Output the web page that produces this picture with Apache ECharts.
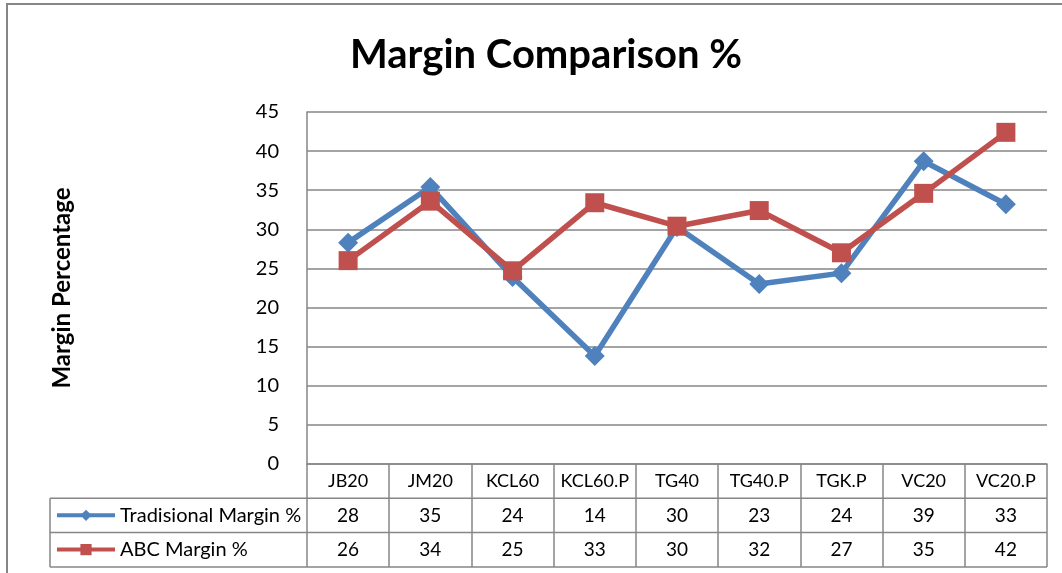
<!DOCTYPE html>
<html>
<head>
<meta charset="utf-8">
<script src="https://cdn.jsdelivr.net/npm/echarts@6/dist/echarts.min.js"></script>
<style>
  html, body { margin: 0; padding: 0; background: #fff; }
  #main { width: 1062px; height: 573px; }
</style>
</head>
<body>
<div id="main"></div>
<script>
// data (the table shows rounded values)
var products = ['JB20', 'JM20', 'KCL60', 'KCL60.P', 'TG40', 'TG40.P', 'TGK.P', 'VC20', 'VC20.P'];
var tradMargin = [28.3, 35.4, 23.9, 13.8, 30.3, 23.0, 24.4, 38.7, 33.2];
var abcMargin = [26.0, 33.6, 24.7, 33.4, 30.4, 32.4, 27.0, 34.6, 42.4];
var yTicks = [0, 5, 10, 15, 20, 25, 30, 35, 40, 45];

var W = 1062, H = 573;
var gridLeft = 307, gridRight = 15, gridTop = 112, gridBottom = 109;
var rowH = 34.3;
var tableLeft = 50;
var plotBottom = H - gridBottom;
var grey = '#868686';
var font = 'Lato, "Noto Sans", sans-serif';

var chart = echarts.init(document.getElementById('main'), null, {renderer: 'canvas'});

// table borders
var tableLines = [];
for (var k = 1; k <= 3; k++) {
  tableLines.push({
    type: 'line',
    shape: {x1: tableLeft, y1: plotBottom + rowH * k, x2: W - gridRight, y2: plotBottom + rowH * k},
    style: {stroke: grey, lineWidth: 1.5}
  });
}
tableLines.push({
  type: 'line',
  shape: {x1: tableLeft, y1: plotBottom + rowH, x2: tableLeft, y2: plotBottom + rowH * 3},
  style: {stroke: grey, lineWidth: 1.5}
});
// outer chart border
tableLines.push({
  type: 'rect',
  shape: {x: 7, y: 4, width: W + 50, height: H + 50},
  style: {stroke: grey, lineWidth: 2, fill: 'none'}
});

var option = {
  animation: false,
  backgroundColor: '#fff',
  color: ['#4F81BD', '#C0504D'],
  title: {
    text: 'Margin Comparison %',
    left: 345,
    top: 30,
    textStyle: {fontFamily: font, fontSize: 40, fontWeight: 'bold', color: '#000'}
  },
  legend: {
    orient: 'vertical',
    left: 55,
    top: plotBottom + rowH + 7,
    padding: 0,
    itemWidth: 58,
    itemHeight: 14,
    itemGap: rowH - 20,
    lineStyle: {width: 4},
    textStyle: {fontFamily: font, fontSize: 20, lineHeight: 20, color: '#000'},
    data: ['Tradisional Margin %', 'ABC Margin %']
  },
  grid: {left: gridLeft, right: gridRight, top: gridTop, bottom: gridBottom, containLabel: false},
  xAxis: {
    type: 'category',
    data: products,
    boundaryGap: true,
    axisLine: {show: true, lineStyle: {color: grey, width: 1.5}},
    axisTick: {show: true, length: rowH * 3, lineStyle: {color: grey, width: 1.5}},
    axisLabel: {
      margin: 0,
      interval: 0,
      formatter: function (val, i) {
        return '{h|' + val + '}\n{v|' + Math.round(tradMargin[i]) + '}\n{v|' + Math.round(abcMargin[i]) + '}';
      },
      rich: {
        h: {fontFamily: font, fontSize: 18, color: '#000', lineHeight: rowH},
        v: {fontFamily: font, fontSize: 19, color: '#000', lineHeight: rowH}
      }
    }
  },
  yAxis: {
    type: 'value',
    min: yTicks[0],
    max: yTicks[yTicks.length - 1],
    interval: 5,
    name: 'Margin Percentage',
    nameLocation: 'middle',
    nameRotate: 90,
    nameGap: 233,
    nameTextStyle: {fontFamily: font, fontSize: 24, fontWeight: 'bold', color: '#000'},
    axisLine: {show: true, lineStyle: {color: grey, width: 1.5}},
    axisTick: {show: false},
    axisLabel: {margin: 28, fontFamily: font, fontSize: 20, color: '#000'},
    splitLine: {lineStyle: {color: grey, width: 1.5}}
  },
  series: [
    {
      name: 'Tradisional Margin %',
      type: 'line',
      data: tradMargin,
      symbol: 'diamond',
      symbolSize: 20,
      lineStyle: {width: 5.5},
      itemStyle: {color: '#4F81BD'}
    },
    {
      name: 'ABC Margin %',
      type: 'line',
      data: abcMargin,
      symbol: 'rect',
      symbolSize: 19,
      lineStyle: {width: 5.5},
      itemStyle: {color: '#C0504D'}
    }
  ],
  graphic: tableLines
};

chart.setOption(option);
</script>
</body>
</html>
